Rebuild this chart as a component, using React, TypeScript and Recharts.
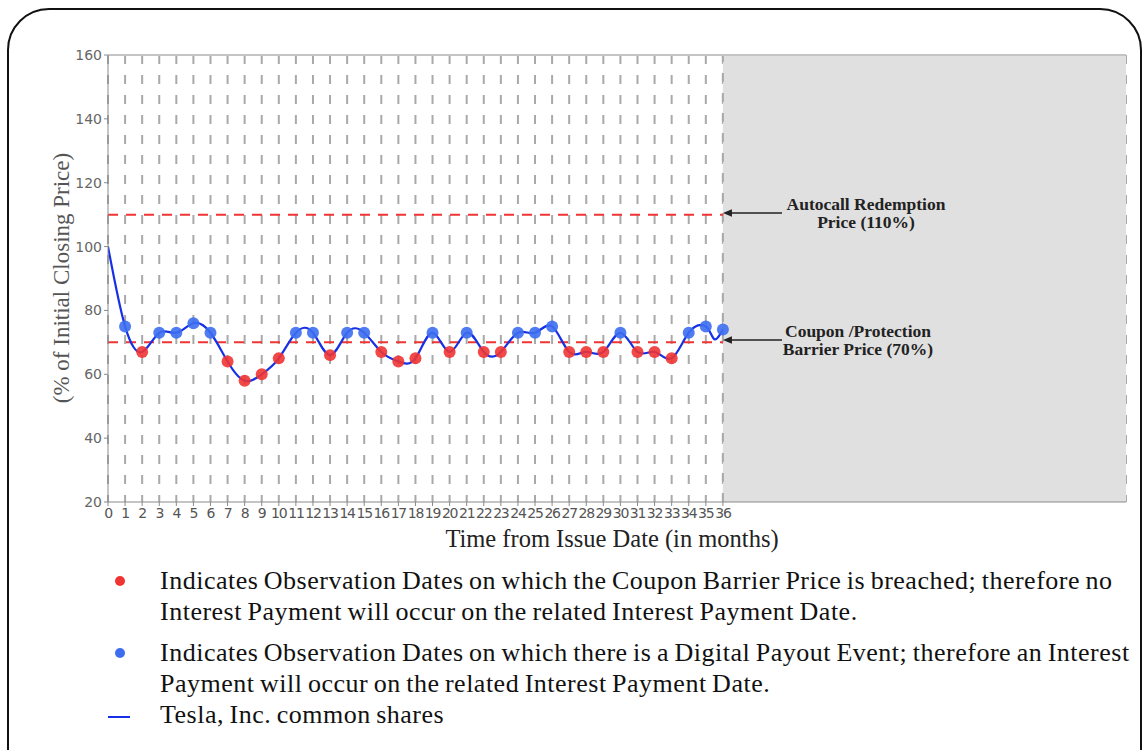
import React from 'react';
import {
  ComposedChart, Line, Scatter, XAxis, YAxis, CartesianGrid, ReferenceLine, ReferenceArea,
} from 'recharts';

// months 0..36 and Tesla closing level as % of initial
const months = [0, 1, 2, 3, 4, 5, 6, 7, 8, 9, 10, 11, 12, 13, 14, 15, 16, 17, 18, 19, 20, 21, 22, 23, 24, 25, 26, 27, 28, 29, 30, 31, 32, 33, 34, 35, 36];
const levels = [100, 75, 67, 73, 73, 76, 73, 64, 58, 60, 65, 73, 73, 66, 73, 73, 67, 64, 65, 73, 67, 73, 67, 67, 73, 73, 75, 67, 67, 67, 73, 67, 67, 65, 73, 75, 74];
const extraMonths = [35.5];
const extraLevels = [71];

const yTicks = [20, 40, 60, 80, 100, 120, 140, 160];
const AUTOCALL = 110;
const BARRIER = 70;
const X_MAX = 59.6;

const lineData = months
  .map((m, i) => ({ m, v: levels[i] }))
  .concat(extraMonths.map((m, i) => ({ m, v: extraLevels[i] })))
  .sort((a, b) => a.m - b.m);
const obs = months.slice(1).map((m, i) => ({ m, v: levels[i + 1] }));
const redDots = obs.filter(d => d.v < BARRIER);
const blueDots = obs.filter(d => d.v >= BARRIER);

const RED = '#f03434';
const BLUE = '#3d6ef0';
const SERIF = '"Liberation Serif", "Times New Roman", serif';
const SANS = '"DejaVu Sans", sans-serif';

const dot = (color: string) => (props: any) => (
  <circle cx={props.cx} cy={props.cy} r={6} fill={color} fillOpacity={0.9} />
);

export default function App() {
  return (
    <div style={{ position: 'fixed', left: 0, top: 0, width: 1146, height: 750, overflow: 'hidden', background: '#fff' }}>
      {/* rounded frame */}
      <div style={{ position: 'absolute', left: 7, top: 8, width: 1131, height: 800, border: '2px solid #111', borderRadius: 42 }} />

      <div style={{ position: 'absolute', left: 0, top: 0 }}>
        <ComposedChart width={1146} height={560} margin={{ top: 55, right: 20, left: 58, bottom: 28 }}>
          <ReferenceArea x1={36} x2={X_MAX} y1={20} y2={160} fill="#e0e0e0" fillOpacity={1} stroke="none" />
          <CartesianGrid horizontal={false} stroke="#a9a9a9" strokeWidth={2} strokeDasharray="9 11" />
          <XAxis
            type="number"
            dataKey="m"
            domain={[0, X_MAX]}
            ticks={months}
            interval={0}
            allowDataOverflow
            height={30}
            stroke="#8a8a8a"
            tickSize={4}
            tick={{ fontSize: 14, fill: '#555', fontFamily: SANS, letterSpacing: -1.2 }}
          />
          <YAxis
            type="number"
            dataKey="v"
            domain={[20, 160]}
            ticks={yTicks}
            width={50}
            stroke="#8a8a8a"
            tickSize={4}
            tick={{ fontSize: 14, fill: '#666', fontFamily: SANS }}
          />
          <ReferenceLine x={36} stroke="#a9a9a9" strokeWidth={2} strokeDasharray="9 11" />
          <ReferenceLine y={160} stroke="#c4c4c4" strokeWidth={2} />
          <ReferenceLine segment={[{ x: 0, y: AUTOCALL }, { x: 36, y: AUTOCALL }]} stroke={RED} strokeWidth={2} strokeDasharray="10 8" />
          <ReferenceLine segment={[{ x: 0, y: BARRIER }, { x: 36, y: BARRIER }]} stroke={RED} strokeWidth={2} strokeDasharray="10 8" />
          <Line data={lineData} dataKey="v" type="natural" stroke="#1530e6" strokeWidth={2.2} dot={false} activeDot={false} isAnimationActive={false} />
          <Scatter data={redDots} dataKey="v" fill={RED} shape={dot(RED)} isAnimationActive={false} />
          <Scatter data={blueDots} dataKey="v" fill={BLUE} shape={dot(BLUE)} isAnimationActive={false} />
        </ComposedChart>
      </div>

      {/* axis titles */}
      <div style={{ position: 'absolute', left: 62, top: 278, transform: 'translate(-50%, -50%) rotate(-90deg)', whiteSpace: 'nowrap', fontFamily: SERIF, fontSize: 23, color: '#555' }}>
        (% of Initial Closing Price)
      </div>
      <div style={{ position: 'absolute', left: 612, top: 539, transform: 'translate(-50%, -50%)', whiteSpace: 'nowrap', fontFamily: SERIF, fontSize: 24.5, color: '#222' }}>
        Time from Issue Date (in months)
      </div>

      {/* annotations */}
      <svg style={{ position: 'absolute', left: 0, top: 0 }} width={1146} height={560}>
        <defs>
          <marker id="ah" viewBox="0 0 10 10" refX="1" refY="5" markerWidth="7" markerHeight="7" orient="auto-start-reverse">
            <path d="M0,1 L10,5 L0,9 z" fill="#222" />
          </marker>
        </defs>
        <line x1={782} y1={213} x2={731} y2={213} stroke="#222" strokeWidth={1.3} markerEnd="url(#ah)" />
        <line x1={782} y1={340} x2={731} y2={340} stroke="#222" strokeWidth={1.3} markerEnd="url(#ah)" />
        <g fontFamily={SERIF} fontWeight="bold" fontSize={17.5} fill="#222" textAnchor="middle">
          <text x={866} y={210}>Autocall Redemption</text>
          <text x={866} y={228}>Price (110%)</text>
          <text x={858} y={337}>Coupon /Protection</text>
          <text x={858} y={355}>Barrier Price (70%)</text>
        </g>
      </svg>

      {/* legend */}
      <div style={{ position: 'absolute', left: 115, top: 576, width: 10, height: 10, borderRadius: 5, background: RED }} />
      <div style={{ position: 'absolute', left: 115, top: 648, width: 10, height: 10, borderRadius: 5, background: BLUE }} />
      <div style={{ position: 'absolute', left: 108, top: 716, width: 22, height: 2, background: '#1530e6' }} />
      <div style={{ position: 'absolute', left: 160, top: 565, width: 975, whiteSpace: 'nowrap', fontFamily: SERIF, fontSize: 26, letterSpacing: 0.5, wordSpacing: -1.5, lineHeight: '31px', color: '#111' }}>
        <div>Indicates Observation Dates on which the Coupon Barrier Price is breached; therefore no</div>
        <div>Interest Payment will occur on the related Interest Payment Date.</div>
        <div style={{ marginTop: 10 }}>Indicates Observation Dates on which there is a Digital Payout Event; therefore an Interest</div>
        <div>Payment will occur on the related Interest Payment Date.</div>
        <div>Tesla, Inc. common shares</div>
      </div>
    </div>
  );
}
